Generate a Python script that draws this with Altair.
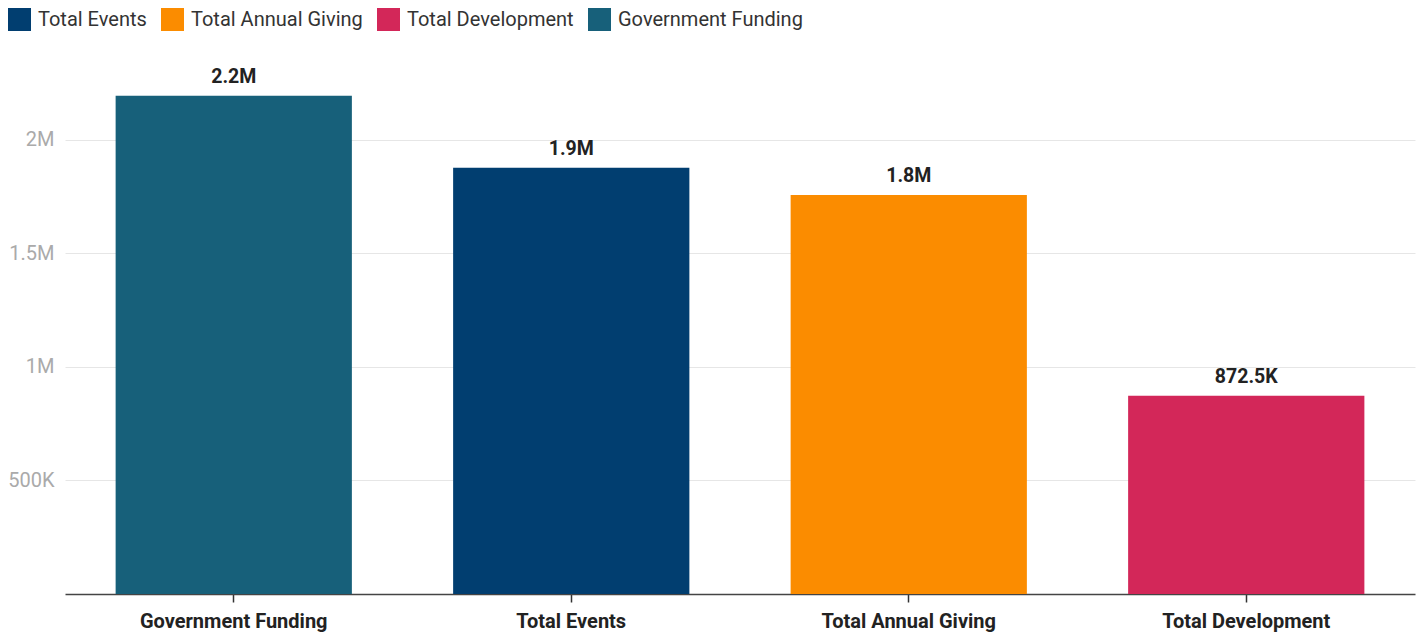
import altair as alt
import pandas as pd

categories = ["Government Funding", "Total Events", "Total Annual Giving", "Total Development"]
values = [2193000, 1876000, 1756000, 872500]
bar_labels = ["2.2M", "1.9M", "1.8M", "872.5K"]
legend_order = ["Total Events", "Total Annual Giving", "Total Development", "Government Funding"]
legend_colors = ["#013e70", "#fb8c00", "#d32759", "#17607a"]
y_ticks = [500000, 1000000, 1500000, 2000000]

df = pd.DataFrame({"category": categories, "value": values, "label": bar_labels})

FONT = "Roboto"

x_enc = alt.X(
    "category:N",
    sort=categories,
    title=None,
    scale=alt.Scale(paddingInner=0.3, paddingOuter=0.15),
    axis=alt.Axis(
        labelAngle=0,
        labelFont=FONT,
        labelFontSize=20,
        labelFontWeight="bold",
        labelColor="#222222",
        labelPadding=9,
        labelLimit=0,
        tickSize=8,
        tickColor="#333333",
        tickWidth=1.5,
        domainColor="#444444",
        domainWidth=1.5,
        grid=False,
    ),
)

y_enc = alt.Y(
    "value:Q",
    title=None,
    scale=alt.Scale(domain=[0, 2447183], nice=False, zero=True),
    axis=alt.Axis(
        values=y_ticks,
        labelExpr="replace(format(datum.value, '~s'), 'k', 'K')",
        labelFont=FONT,
        labelFontSize=20,
        labelColor="#aaaaaa",
        labelPadding=11,
        ticks=False,
        domain=False,
        grid=True,
        gridColor="#e6e6e6",
        gridWidth=1,
    ),
)

bars = alt.Chart(df).mark_bar().encode(
    x=x_enc,
    y=y_enc,
    color=alt.Color(
        "category:N",
        scale=alt.Scale(domain=legend_order, range=legend_colors),
        legend=alt.Legend(
            title=None,
            orient="none",
            legendX=-57,
            legendY=-30,
            direction="horizontal",
            symbolType="square",
            symbolSize=529,
            symbolStrokeWidth=0,
            symbolOpacity=1,
            labelFont=FONT,
            labelFontSize=20,
            labelColor="#333333",
            labelOffset=7,
            labelLimit=0,
            columnPadding=14,
            padding=0,
        ),
    ),
)

texts = alt.Chart(df).mark_text(
    font=FONT, fontSize=19.5, fontWeight="bold", color="#222222", dy=-13, baseline="alphabetic"
).encode(
    x=alt.X("category:N", sort=categories),
    y=alt.Y("value:Q"),
    text="label:N",
)

chart = alt.layer(bars, texts).properties(
    width=1350,
    height=556,
    autosize=alt.AutoSizeParams(type="none"),
    padding={"left": 57, "top": 30, "right": 1, "bottom": 38},
).configure(background="white").configure_view(stroke=None, strokeWidth=0)

chart.save("out.html", embed_options={"renderer": "svg", "actions": False})
